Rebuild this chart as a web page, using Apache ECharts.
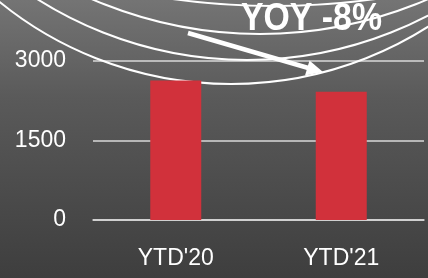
<!DOCTYPE html>
<html lang="en">
  <head>
    <meta charset="UTF-8" />
    <title>YTD</title>
    <style>
      html, body { margin: 0; padding: 0; }
      #app { width: 428px; height: 278px; }
    </style>
  </head>
  <body>
    <div id="app"></div>
    <script src="https://cdn.jsdelivr.net/npm/echarts@6/dist/echarts.min.js"></script>
    <script>
      var categories = ["YTD'20", "YTD'21"]
      var values = [2630, 2420]
      var yTicks = [0, 1500, 3000]
      var note = 'YOY -8%'

      var chart = echarts.init(document.getElementById('app'))

      // ripple rings in the background picture
      var rings = [
        { cx: 231, cy: -283, r: 367 },
        { cx: 247, cy: -331, r: 391 },
        { cx: 260, cy: -389, r: 423 },
        { cx: 274, cy: -724, r: 730 }
      ]

      var option = {
        backgroundColor: {
          type: 'linear', x: 0, y: 0, x2: 0, y2: 1,
          colorStops: [
            { offset: 0, color: '#747474' },
            { offset: 0.35, color: '#5a5a5a' },
            { offset: 1, color: '#3e3e3e' }
          ]
        },
        grid: { left: 93, right: 4, top: 61, bottom: 58 },
        xAxis: {
          type: 'category',
          data: categories,
          axisLine: { lineStyle: { color: '#d9d9d9', width: 1.5 } },
          axisTick: { show: false },
          axisLabel: {
            color: '#ffffff',
            fontSize: 23,
            fontFamily: 'Liberation Sans',
            margin: 27
          }
        },
        yAxis: {
          type: 'value',
          min: yTicks[0],
          max: yTicks[yTicks.length - 1],
          interval: yTicks[1] - yTicks[0],
          axisLine: { show: false },
          axisTick: { show: false },
          splitLine: { lineStyle: { color: '#d9d9d9', width: 1.5 } },
          axisLabel: {
            color: '#ffffff',
            fontSize: 23,
            fontFamily: 'Liberation Sans',
            margin: 27,
            formatter: function(v) { return String(v) }
          }
        },
        series: [
          {
            type: 'bar',
            data: values,
            barWidth: 51,
            itemStyle: { color: '#d1313b' },
            z: 5
          }
        ],
        graphic: rings
          .map(function(c) {
            return {
              type: 'circle',
              z: 1,
              silent: true,
              shape: { cx: c.cx, cy: c.cy, r: c.r },
              style: { fill: 'none', stroke: '#ffffff', lineWidth: 2 }
            }
          })
          .concat([
            {
              type: 'line',
              z: 10,
              shape: { x1: 188, y1: 33, x2: 310, y2: 68.5 },
              style: { stroke: '#ffffff', lineWidth: 4.5 }
            },
            {
              type: 'polygon',
              z: 10,
              shape: { points: [[323, 72], [305, 75.5], [309.5, 60.5]] },
              style: { fill: '#ffffff' }
            },
            {
              type: 'text',
              z: 10,
              x: 241,
              y: 1,
              scaleX: 0.89,
              style: {
                text: note,
                fill: '#ffffff',
                font: 'bold 38px "Liberation Sans"'
              }
            }
          ])
      }
      chart.setOption(option)
    </script>
  </body>
</html>
